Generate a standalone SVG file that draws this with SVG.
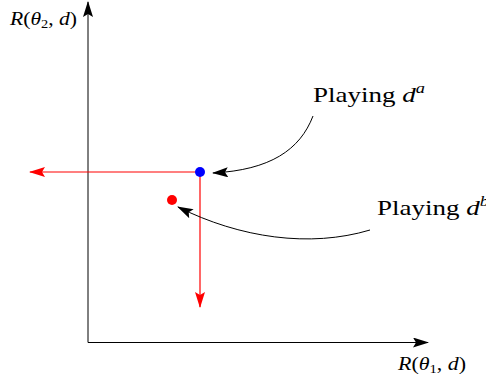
<svg xmlns="http://www.w3.org/2000/svg" width="486" height="379" viewBox="0 0 486 379">
<defs>
<marker id="ab" markerWidth="16" markerHeight="10" refX="15" refY="5" orient="auto" markerUnits="userSpaceOnUse"><path d="M0,0 L16,5 L0,10 L3,5 Z" fill="#000"/></marker>
<marker id="ar" markerWidth="16" markerHeight="10" refX="15" refY="5" orient="auto" markerUnits="userSpaceOnUse"><path d="M0,0 L16,5 L0,10 L3,5 Z" fill="#f00"/></marker>
</defs>
<style>
.t{font-family:"Liberation Serif","DejaVu Serif",serif;fill:#000}
.i{font-style:italic}
.ax{stroke:#000;stroke-width:1;fill:none}
.rl{stroke:#f00;stroke-width:1.2;fill:none}
.cv{stroke:#000;stroke-width:1;fill:none}
</style>
<g id="connectors">
<line class="ax" x1="88" y1="342.5" x2="88" y2="2" marker-end="url(#ab)"/>
<line class="ax" x1="88" y1="342.5" x2="428" y2="342.5" marker-end="url(#ab)"/>
<line class="rl" x1="200" y1="172" x2="30" y2="172" marker-end="url(#ar)"/>
<line class="rl" x1="200" y1="172" x2="200" y2="307" marker-end="url(#ar)"/>
<path class="cv" d="M313,116 C300,150 270,170 213,173" marker-end="url(#ab)"/>
<path class="cv" d="M370,230 C310,248 240,238 178,207" marker-end="url(#ab)"/>
</g>
<g id="point-a"><circle cx="200" cy="172" r="5" fill="#00f"/></g>
<g id="point-b"><circle cx="172" cy="200" r="5" fill="#f00"/></g>
<g id="label-y"><text class="t" x="10" y="25" font-size="18" textLength="67" lengthAdjust="spacingAndGlyphs"><tspan class="i">R</tspan>(<tspan class="i">θ</tspan><tspan font-size="12" dy="3">2</tspan><tspan dy="-3">, </tspan><tspan class="i">d</tspan>)</text></g>
<g id="label-x"><text class="t" x="398" y="370" font-size="18" textLength="68" lengthAdjust="spacingAndGlyphs"><tspan class="i">R</tspan>(<tspan class="i">θ</tspan><tspan font-size="12" dy="3">1</tspan><tspan dy="-3">, </tspan><tspan class="i">d</tspan>)</text></g>
<g id="label-a"><text class="t" x="313" y="102" font-size="22" textLength="112" lengthAdjust="spacingAndGlyphs">Playing <tspan class="i">d</tspan><tspan class="i" font-size="15" dy="-9">a</tspan></text></g>
<g id="label-b"><text class="t" x="377" y="215" font-size="22" textLength="112" lengthAdjust="spacingAndGlyphs">Playing <tspan class="i">d</tspan><tspan class="i" font-size="15" dy="-9">b</tspan></text></g>
</svg>
